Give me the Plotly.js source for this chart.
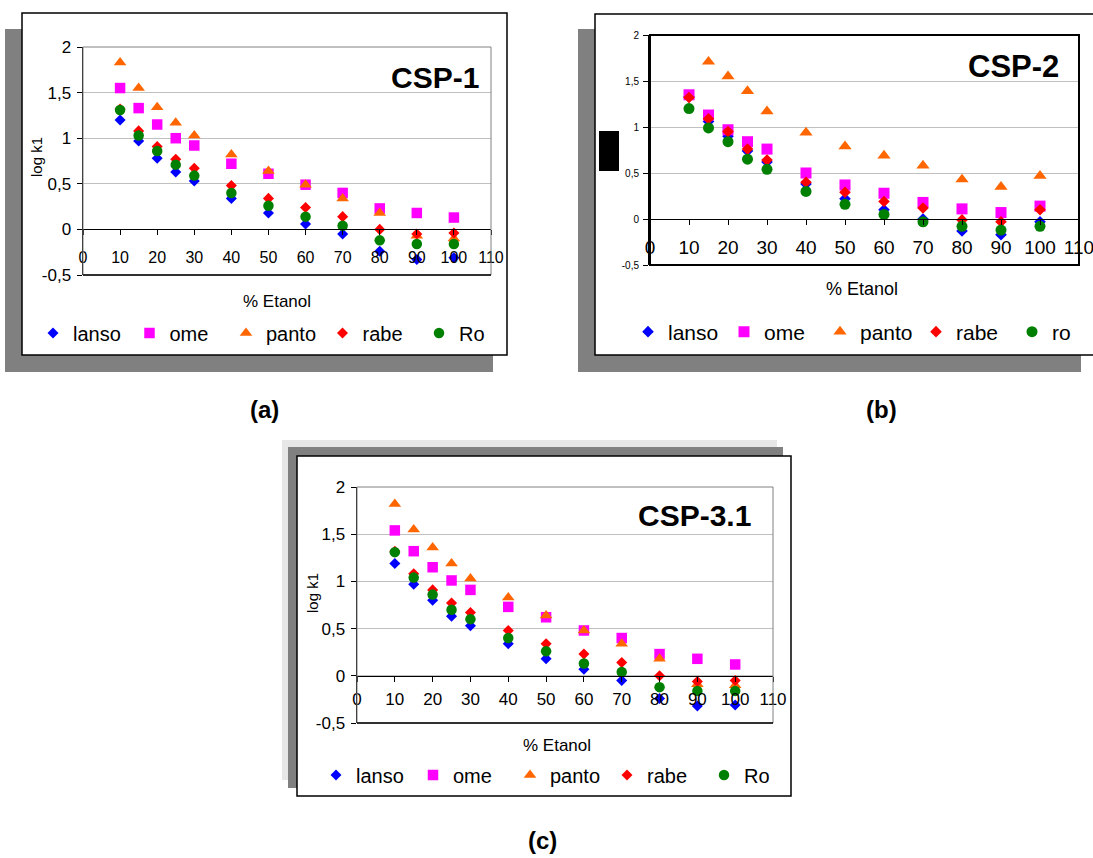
<!DOCTYPE html>
<html>
<head>
<meta charset="utf-8">
<script src="https://cdn.plot.ly/plotly-3.0.1.min.js"></script>
<style>html,body{margin:0;padding:0;background:#fff;}#chart{width:1093px;height:858px;}</style>
</head>
<body>
<div id="chart"></div>
<script>
// ---------- data ----------
const etanol = [10, 15, 20, 25, 30, 40, 50, 60, 70, 80, 90, 100];
const seriesNames = ['lanso', 'ome', 'panto', 'rabe', 'Ro'];
const seriesNamesB = ['lanso', 'ome', 'panto', 'rabe', 'ro'];
const yTickVals = [-0.5, 0, 0.5, 1, 1.5, 2];
const yTickText = ['-0,5', '0', '0,5', '1', '1,5', '2'];
const xTickVals = [0, 10, 20, 30, 40, 50, 60, 70, 80, 90, 100, 110];

// CSP-1
const csp1_lanso = [1.20, 0.97, 0.78, 0.63, 0.53, 0.34, 0.18, 0.06, -0.05, -0.24, -0.33, -0.31];
const csp1_ome   = [1.55, 1.33, 1.15, 1.00, 0.92, 0.72, 0.61, 0.49, 0.40, 0.23, 0.18, 0.13];
const csp1_panto = [1.83, 1.55, 1.34, 1.17, 1.03, 0.82, 0.64, 0.49, 0.34, 0.18, -0.07, -0.10];
const csp1_rabe  = [1.32, 1.08, 0.91, 0.77, 0.67, 0.48, 0.34, 0.24, 0.14, 0.00, -0.05, -0.04];
const csp1_ro    = [1.31, 1.03, 0.86, 0.71, 0.59, 0.40, 0.26, 0.14, 0.04, -0.12, -0.16, -0.16];

// CSP-2
const csp2_lanso = [1.33, 1.06, 0.90, 0.74, 0.62, 0.38, 0.22, 0.10, 0.00, -0.13, -0.17, -0.03];
const csp2_ome   = [1.35, 1.13, 0.97, 0.84, 0.76, 0.50, 0.37, 0.28, 0.18, 0.11, 0.07, 0.14];
const csp2_panto = [null, 1.71, 1.55, 1.39, 1.17, 0.94, 0.79, 0.69, 0.58, 0.43, 0.35, 0.47];
const csp2_rabe  = [1.32, 1.09, 0.95, 0.76, 0.64, 0.40, 0.29, 0.19, 0.12, -0.01, -0.03, 0.10];
const csp2_ro    = [1.20, 0.99, 0.84, 0.65, 0.54, 0.30, 0.16, 0.05, -0.03, -0.08, -0.12, -0.08];

// CSP-3.1
const csp3_lanso = [1.19, 0.97, 0.80, 0.63, 0.53, 0.34, 0.18, 0.07, -0.05, -0.24, -0.32, -0.31];
const csp3_ome   = [1.54, 1.32, 1.15, 1.01, 0.91, 0.73, 0.62, 0.48, 0.40, 0.23, 0.18, 0.12];
const csp3_panto = [1.82, 1.55, 1.36, 1.19, 1.03, 0.83, 0.64, 0.48, 0.34, 0.18, -0.09, -0.10];
const csp3_rabe  = [1.32, 1.08, 0.91, 0.77, 0.67, 0.48, 0.34, 0.23, 0.14, 0.00, -0.06, -0.05];
const csp3_ro    = [1.31, 1.04, 0.86, 0.70, 0.60, 0.40, 0.26, 0.13, 0.04, -0.12, -0.16, -0.16];

// ---------- styles ----------
const colors = ['#0000FF', '#FF00FF', '#FF6600', '#FF0000', '#008000'];
const symbols = ['diamond', 'square', 'triangle-up', 'diamond', 'circle'];
const sizes = [8.5, 10.5, 11, 8.5, 10.5];

const W = 1093, H = 858;
const PX = p => p / W;
const PY = p => 1 - p / H;
const FONT = 'Arial, "Liberation Sans", sans-serif';

function makeTraces(ys, names, xa, ya, leg, scale) {
  return ys.map((y, i) => ({
    type: 'scatter', mode: 'markers', x: etanol, y: y, name: names[i],
    xaxis: xa, yaxis: ya, legend: leg, cliponaxis: false,
    marker: {symbol: symbols[i], color: colors[i], size: sizes[i] * scale, line: {width: 0}}
  }));
}

const data = [].concat(
  makeTraces([csp1_lanso, csp1_ome, csp1_panto, csp1_rabe, csp1_ro], seriesNames, 'x', 'y', 'legend', 1),
  makeTraces([csp2_lanso, csp2_ome, csp2_panto, csp2_rabe, csp2_ro], seriesNamesB, 'x2', 'y2', 'legend2', 1.05),
  makeTraces([csp3_lanso, csp3_ome, csp3_panto, csp3_rabe, csp3_ro], seriesNames, 'x3', 'y3', 'legend3', 1)
);

// panel geometry in pixels
const P = {
  a: {l: 83, r: 491, t: 47, b: 275},
  b: {l: 650, r: 1079, t: 35, b: 265},
  c: {l: 357, r: 773, t: 487, b: 723}
};
function zeroPos(p) { return PY(p.b - (p.b - p.t) * 0.5 / 2.5); }

function xAxis(p, fs, standoff) {
  return {
    domain: [PX(p.l), PX(p.r)], range: [0, 110], anchor: 'free', position: zeroPos(p),
    tickvals: xTickVals, ticks: 'outside', ticklen: 5, tickcolor: '#000', tickwidth: 1,
    showline: true, linecolor: '#000', linewidth: 1, showgrid: false, zeroline: false, tickangle: 0,
    ticklabeloverflow: 'allow',
    tickfont: {family: FONT, size: fs, color: '#000'}, ticklabelstandoff: standoff, fixedrange: true
  };
}
function yAxis(p, fs, xa, lw) {
  return {
    domain: [PY(p.b), PY(p.t)], range: [-0.5, 2], anchor: xa,
    tickvals: yTickVals, ticktext: yTickText, ticks: 'outside', ticklen: 5, tickcolor: '#000',
    showline: true, linecolor: '#000', linewidth: lw, showgrid: true, gridcolor: '#c0c0c0', gridwidth: 1,
    zeroline: false, tickfont: {family: FONT, size: fs, color: '#000'}, ticklabelstandoff: 2, fixedrange: true
  };
}

function rectPx(x0, y0, x1, y1, fill, line, lw) {
  return {type: 'rect', xref: 'paper', yref: 'paper', layer: 'below',
    x0: PX(x0), x1: PX(x1), y0: PY(y1), y1: PY(y0),
    fillcolor: fill, line: {color: line || fill, width: lw || 0}};
}

const shapes = [
  // panel (a) shadow + frame
  rectPx(5, 29, 493, 372, '#808080'),
  rectPx(22, 13, 507, 355, '#ffffff', '#000000', 1.5),
  // panel (b)
  rectPx(578, 29, 1081, 372, '#808080'),
  rectPx(595, 14, 1100, 355, '#ffffff', '#000000', 1.5),
  rectPx(599, 131, 619, 171, '#000000'),
  // panel (c)
  rectPx(282, 440, 777, 780, '#e6e6e6'),
  rectPx(288, 447, 783, 788, '#808080'),
  rectPx(297, 456, 791, 796, '#ffffff', '#000000', 1.5),
  // plot area borders
  {type: 'rect', xref: 'x domain', yref: 'y domain', x0: 0, x1: 1, y0: 0, y1: 1, line: {color: '#808080', width: 1}},
  {type: 'line', xref: 'x domain', yref: 'y domain', x0: 0, x1: 1, y0: 0, y1: 0, line: {color: '#000', width: 1.5}},
  {type: 'rect', xref: 'x2 domain', yref: 'y2 domain', x0: 0, x1: 1, y0: 0, y1: 1, line: {color: '#000', width: 2}},
  {type: 'rect', xref: 'x3 domain', yref: 'y3 domain', x0: 0, x1: 1, y0: 0, y1: 1, line: {color: '#808080', width: 1}},
  {type: 'line', xref: 'x3 domain', yref: 'y3 domain', x0: 0, x1: 1, y0: 0, y1: 0, line: {color: '#000', width: 1.5}}
];

function ann(text, xpx, ypx, size, bold, xanchor, angle) {
  return {text: bold ? '<b>' + text + '</b>' : text, xref: 'paper', yref: 'paper',
    x: PX(xpx), y: PY(ypx), xanchor: xanchor || 'center', yanchor: 'middle', showarrow: false,
    textangle: angle || 0, font: {family: FONT, size: size, color: '#000'}};
}

const annotations = [
  ann('CSP-1', 481, 77, 30, true, 'right'),
  ann('CSP-2', 1061, 67, 31, true, 'right'),
  ann('CSP-3.1', 753, 515, 30, true, 'right'),
  ann('log k1', 37, 157, 15, false, 'center', -90),
  ann('log k1', 312, 593, 15, false, 'center', -90),
  ann('% Etanol', 277, 302, 17, false),
  ann('% Etanol', 862, 289, 18, false),
  ann('% Etanol', 557, 745, 17, false),
  ann('(a)', 264, 410, 24, true),
  ann('(b)', 881, 410, 24, true),
  ann('(c)', 542, 840, 24, true)
];

function legendDef(xpx, ypx, fs, ew) {
  return {orientation: 'h', x: PX(xpx), y: PY(ypx), xanchor: 'left', yanchor: 'middle',
    xref: 'paper', yref: 'paper', bgcolor: 'rgba(0,0,0,0)', borderwidth: 0,
    entrywidth: ew, entrywidthmode: 'pixels', traceorder: 'normal', itemclick: false, itemdoubleclick: false,
    font: {family: FONT, size: fs, color: '#000'}};
}

const layout = {
  width: W, height: H, margin: {l: 0, r: 0, t: 0, b: 0, pad: 0, autoexpand: false},
  paper_bgcolor: '#ffffff', plot_bgcolor: 'rgba(0,0,0,0)',
  showlegend: true,
  xaxis: xAxis(P.a, 16, 8), yaxis: yAxis(P.a, 17, 'x', 1.5),
  xaxis2: xAxis(P.b, 19, 6), yaxis2: yAxis(P.b, 10, 'x2', 2),
  xaxis3: xAxis(P.c, 17, 3), yaxis3: yAxis(P.c, 17, 'x3', 1.5),
  legend: legendDef(33, 333, 20, 51.5),
  legend2: legendDef(628, 332, 21, 51),
  legend3: legendDef(316, 775, 20, 52),
  shapes: shapes, annotations: annotations
};

Plotly.newPlot('chart', data, layout, {displayModeBar: false, staticPlot: true});
</script>
</body>
</html>
